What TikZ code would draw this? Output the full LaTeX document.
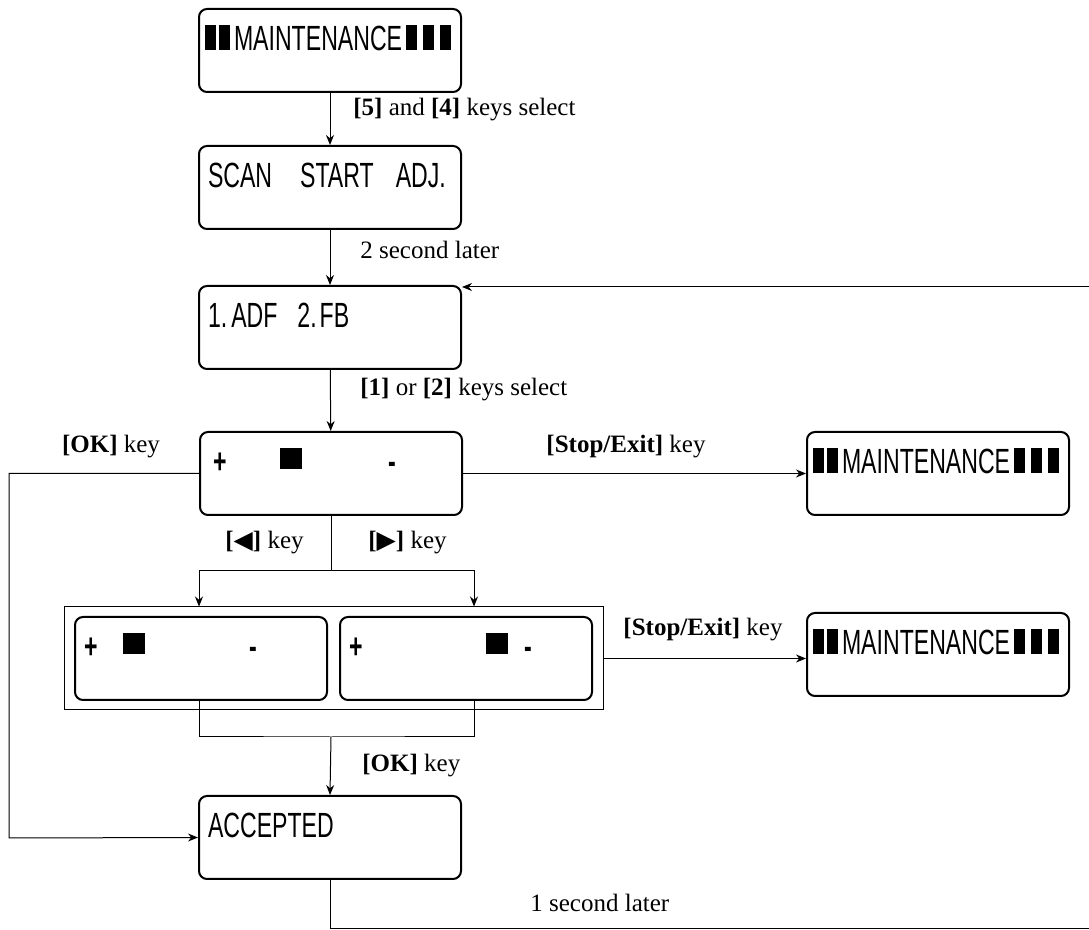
\documentclass[tikz,border=0pt]{standalone}
\usepackage{fontspec}
\setmainfont{Liberation Serif}
\newfontfamily\lcdfont[FakeStretch=0.66]{Liberation Sans}
\newfontfamily\symfont{DejaVu Sans}
\usetikzlibrary{arrows.meta,fit}

\newcommand{\blk}{\rule{5.5pt}{12.5pt}}
\newcommand{\cursor}{\raisebox{2pt}{\rule{11pt}{10.5pt}}}
\newcommand{\maintline}{\hspace*{-1.5pt}\blk\hspace{1.5pt}\blk\hspace{2pt}MAINTENANCE\hspace{2pt}\blk\hspace{3pt}\blk\hspace{3pt}\blk}

\begin{document}
\begin{tikzpicture}[
  x=0.5pt, y=-0.5pt,
  lcd/.style={draw, line width=1pt, rounded corners=4pt, inner xsep=4.5pt, inner ysep=0pt,
    text width=122pt, align=left, text height=20.75pt, text depth=20.75pt,
    font=\fontsize{17.5}{19}\lcdfont, anchor=north},
  lcdhalf/.style={lcd, text width=117pt},
  conn/.style={-{Stealth[length=5pt,width=4pt]}, line width=0.5pt},
  wire/.style={line width=0.5pt},
  lbl/.style={font=\fontsize{12.5}{15}\selectfont, inner sep=0pt},
]
\useasboundingbox (0,0) rectangle (1089,930);

% display screens
\node[lcd] (mtop) at (330,8) {\maintline};
\node[lcd] (scan) at (330,145) {SCAN\hspace{14pt}START\hspace{11pt}ADJ.};
\node[lcd] (mode) at (330,285) {1.\hspace{2pt}ADF\hspace{10pt}2.\hspace{1.5pt}FB};
\node[lcd] (adj) at (331,431) {\hspace*{2pt}\textbf{+}\hspace{27pt}\cursor\hspace{43pt}\textbf{-}};
\node[lcd] (mstop) at (938,431) {\maintline};
\node[lcdhalf] (left) at (201,616) {\textbf{+}\hspace{12.75pt}\cursor\hspace{52.5pt}\textbf{-}};
\node[lcdhalf] (right) at (466,616) {\textbf{+}\hspace{61.75pt}\cursor\hspace{8.5pt}\textbf{-}};
\node[draw, line width=0.5pt, inner xsep=5pt, inner ysep=4.5pt, fit=(left)(right)] (pair) {};
\node[lcd] (mexit) at (938,612) {\maintline};
\node[lcd] (acc) at (330,795) {ACCEPTED};

% turning points
\coordinate (split) at (331,571);
\coordinate (join) at (331,737);
\coordinate (okturn) at (9,838);
\coordinate (loopbr) at (1093,929);

% connectors
\draw[conn] (mtop) -- (scan);
\draw[conn] (scan) -- (mode);
\draw[conn] (mode) -- (adj);
\draw[conn] (adj) -- (mstop);
\draw[conn] (adj.west) -| (okturn) -- (acc.west);
\draw[wire] (adj.south) -- (split);
\draw[conn] (split) -| ([xshift=-1pt]left.north |- pair.north);
\draw[conn] (split) -| ([xshift=4pt]right.north |- pair.north);
\draw[wire] ([xshift=-1pt]left.south) |- (join) -| ([xshift=4pt]right.south);
\draw[conn] (join) -- (acc.north);
\draw[conn] (pair.east) -- (pair.east -| mexit.west);
\draw[conn] (acc.south) |- (loopbr) |- ([yshift=-1pt]mode.north east);

% key labels
\node[lbl, anchor=west] (l5) at (353,110) {\textbf{[5]} and \textbf{[4]} keys select};
\node[lbl, anchor=west] (l2s) at (360,250) {2 second later};
\node[lbl, anchor=west] (l12) at (360,390) {\textbf{[1]} or \textbf{[2]} keys select};
\node[lbl] (lok) at (111,447) {\textbf{[OK]} key};
\node[lbl] (lstop) at (626,447) {\textbf{[Stop/Exit]} key};
\node[lbl, anchor=east] (lleft) at (304,543) {\textbf{[{\symfont ◀}]} key};
\node[lbl, anchor=west] (lright) at (368,543) {\textbf{[{\symfont ▶}]} key};
\node[lbl] (lstop2) at (703,630) {\textbf{[Stop/Exit]} key};
\node[lbl, anchor=west] (lok2) at (362,766) {\textbf{[OK]} key};
\node[lbl, anchor=west] (l1s) at (530,903) {1 second later};
\end{tikzpicture}
\end{document}
